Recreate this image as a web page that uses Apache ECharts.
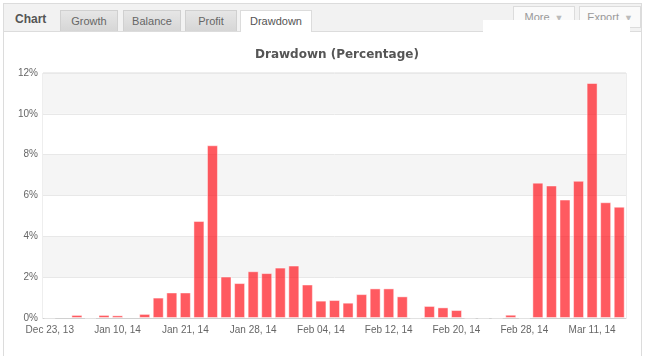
<!DOCTYPE html>
<html>
<head>
<meta charset="utf-8">
<script src="https://cdn.jsdelivr.net/npm/echarts@6/dist/echarts.min.js"></script>
<style>
  html, body { margin: 0; padding: 0; background: #fff; }
  body { width: 651px; height: 356px; position: relative; overflow: hidden; font-family: "Liberation Sans", Arial, sans-serif; }
  #chart { position: absolute; left: 0; top: 0; width: 651px; height: 356px; }
  .frame { position: absolute; left: 3px; top: 3px; width: 639px; height: 360px; border: 1px solid #dcdcdc; box-sizing: border-box; pointer-events: none; }
  .header { position: absolute; left: 4px; top: 4px; width: 638px; height: 27px; background: #f2f2f2; border-bottom: 1px solid #dcdcdc; }
  .lbl { position: absolute; left: 15px; top: 12px; font-weight: bold; font-size: 12px; color: #555; }
  .tab { position: absolute; top: 10px; height: 21px; box-sizing: border-box; border: 1px solid #d0d0d0; border-bottom: none;
         background: linear-gradient(#e6e6e6, #d6d6d6); font-size: 11px; color: #666; text-align: center; line-height: 20px; }
  .tab.active { background: #fff; height: 22px; border-color: #dcdcdc; color: #555; }
  .btn { position: absolute; top: 6px; height: 22px; box-sizing: border-box; border: 1px solid #dcdcdc; background: #fafafa;
         font-size: 11px; color: #999; line-height: 20px; text-align: center; }
  .btn span { color: #bbb; font-size: 9px; margin-left: 5px; }
  .mask { position: absolute; left: 483px; top: 20px; width: 147px; height: 12px; background: #fff; }
</style>
</head>
<body>
<div id="chart"></div>
<div class="header"></div>
<div class="lbl">Chart</div>
<div class="tab" style="left:60px;width:58px;">Growth</div>
<div class="tab" style="left:123px;width:58px;">Balance</div>
<div class="tab" style="left:185px;width:52px;">Profit</div>
<div class="tab active" style="left:240px;width:72px;">Drawdown</div>
<div class="btn" style="left:513px;width:62px;">More<span>&#9660;</span></div>
<div class="btn" style="left:579px;width:62px;">Export<span>&#9660;</span></div>
<div class="mask"></div>
<div class="frame"></div>
<script>
const categories = [
  "Dec 23, 13", "Dec 24, 13", "Dec 27, 13", "Jan 02, 14", "Jan 07, 14",
  "Jan 10, 14", "Jan 13, 14", "Jan 14, 14", "Jan 15, 14", "Jan 17, 14",
  "Jan 21, 14", "Jan 22, 14", "Jan 23, 14", "Jan 24, 14", "Jan 27, 14",
  "Jan 28, 14", "Jan 29, 14", "Jan 30, 14", "Jan 31, 14", "Feb 03, 14",
  "Feb 04, 14", "Feb 05, 14", "Feb 06, 14", "Feb 07, 14", "Feb 10, 14",
  "Feb 12, 14", "Feb 13, 14", "Feb 14, 14", "Feb 17, 14", "Feb 18, 14",
  "Feb 20, 14", "Feb 21, 14", "Feb 24, 14", "Feb 25, 14", "Feb 26, 14",
  "Feb 28, 14", "Mar 03, 14", "Mar 04, 14", "Mar 05, 14", "Mar 07, 14",
  "Mar 11, 14", "Mar 12, 14", "Mar 13, 14"
];
const drawdown = [
  0, 0.05, 0.15, 0, 0.15,
  0.13, 0.05, 0.2, 1.0, 1.25,
  1.25, 4.75, 8.46, 2.03, 1.71,
  2.29, 2.2, 2.47, 2.57, 1.64,
  0.85, 0.88, 0.75, 1.17, 1.45,
  1.45, 1.06, 0, 0.59, 0.52,
  0.39, 0, 0, 0, 0.16,
  0, 6.63, 6.49, 5.8, 6.72,
  11.51, 5.67, 5.45
];
const yTicks = [0, 2, 4, 6, 8, 10, 12];
const titleText = "Drawdown (Percentage)";

const chart = echarts.init(document.getElementById('chart'), null, { renderer: 'canvas' });
chart.setOption({
  animation: false,
  backgroundColor: 'transparent',
  title: {
    text: titleText,
    left: 250, top: 44,
    textStyle: { fontFamily: 'DejaVu Sans', fontWeight: 'bold', fontSize: 12, color: '#555' }
  },
  grid: {
    left: 43, right: 25, top: 73, bottom: 38,
    show: true, borderColor: '#dcdcdc', borderWidth: 1, backgroundColor: 'transparent'
  },
  xAxis: {
    type: 'category',
    data: categories,
    axisLine: { show: true, lineStyle: { color: '#d0d0d0' } },
    axisTick: { show: false },
    axisLabel: { interval: 4, color: '#666', fontSize: 10, fontFamily: 'Liberation Sans', margin: 7 }
  },
  yAxis: {
    type: 'value',
    min: yTicks[0], max: yTicks[yTicks.length - 1], interval: 2,
    axisLine: { show: false },
    axisTick: { show: false },
    axisLabel: { formatter: '{value}%', color: '#666', fontSize: 10, fontFamily: 'Liberation Sans', margin: 5 },
    splitLine: { show: true, lineStyle: { color: '#e8e8e8' } },
    splitArea: { show: true, areaStyle: { color: ['#ffffff', '#f5f5f5'] } }
  },
  series: [{
    type: 'bar',
    data: drawdown,
    barCategoryGap: '19%',
    itemStyle: { color: 'rgba(255, 20, 28, 0.7)', borderColor: 'rgba(255,255,255,0.45)', borderWidth: 1 }
  }]
});
</script>
</body>
</html>
